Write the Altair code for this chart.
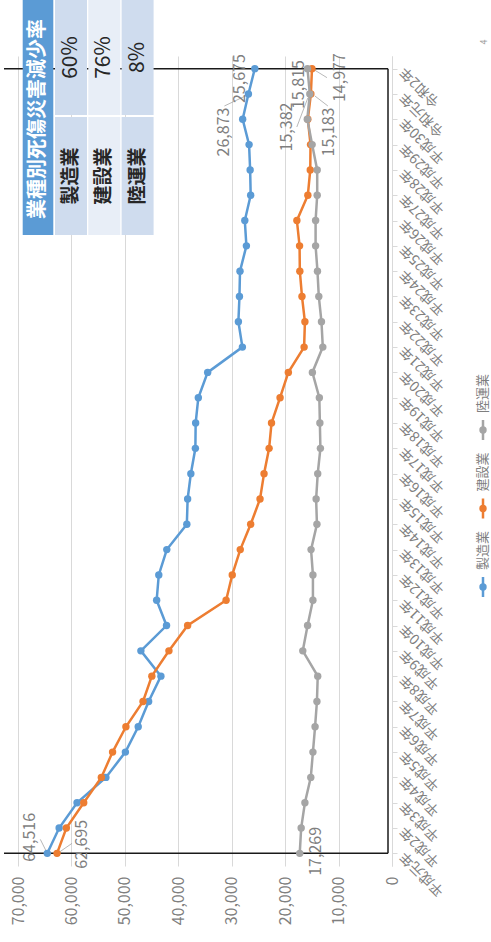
import altair as alt
import pandas as pd

# Categories (fiscal years) and series values
years = [
    "平成元年", "平成2年", "平成3年", "平成4年", "平成5年", "平成6年", "平成7年", "平成8年",
    "平成9年", "平成10年", "平成11年", "平成12年", "平成13年", "平成14年", "平成15年", "平成16年",
    "平成17年", "平成18年", "平成19年", "平成20年", "平成21年", "平成22年", "平成23年", "平成24年",
    "平成25年", "平成26年", "平成27年", "平成28年", "平成29年", "平成30年", "令和元年", "令和2年",
]
seizo = [64516, 62300, 58950, 53550, 49900, 47500, 45550, 43250, 47000, 42200,
         44050, 43650, 42150, 38400, 38250, 37650, 36800, 36750, 36250, 34500,
         28000, 28750, 28550, 28450, 27250, 27550, 26450, 26550, 26750, 27950,
         26873, 25675]
kensetsu = [62695, 60950, 57700, 54400, 52300, 49800, 46600, 44950, 41750, 38250,
            31050, 29900, 28400, 26450, 24700, 23950, 23000, 22550, 20950, 19400,
            16450, 16300, 16850, 17250, 17300, 17800, 15750, 15300, 15250, 15750,
            15183, 14977]
rikuun = [17269, 17000, 16300, 15200, 14800, 14400, 14050, 13900, 16700, 15800,
          14800, 14800, 15150, 14050, 14200, 13900, 13400, 13500, 13600, 14900,
          12950, 13200, 13700, 13950, 14300, 14300, 14000, 14000, 14950, 15850,
          15382, 15815]
series_names = ["製造業", "建設業", "陸運業"]
series_colors = ["#5B9BD5", "#ED7D31", "#A5A5A5"]
reduction_rates = ["60%", "76%", "8%"]
table_title = "業種別死傷災害減少率"
value_ticks = [0, 10000, 20000, 30000, 40000, 50000, 60000, 70000]

# Layout
W, H = 374, 810
PAD = {"left": 18, "top": 56, "right": 99, "bottom": 76}
FONT = "Noto Sans CJK JP"
GRAY_TEXT = "#7f7f7f"
GRID = "#d9d9d9"
VMAX = 70000

n = len(years)
df = pd.DataFrame({
    "idx": list(range(n)) * 3,
    "year": years * 3,
    "series": [s for s in series_names for _ in range(n)],
    "value": seizo + kensetsu + rikuun,
})

x_scale = alt.Scale(domain=[0, VMAX], reverse=True, nice=False)
y_scale = alt.Scale(domain=[-0.5, n - 0.5], nice=False, zero=False)

x_axis = alt.Axis(
    values=value_ticks, labelExpr="format(datum.value, ',')", orient="bottom", labelAngle=270,
    labelAlign="right", labelBaseline="middle", labelFontSize=16,
    labelColor=GRAY_TEXT, labelFont=FONT, labelPadding=10, labelFlush=False,
    labelOverlap=False, ticks=False, domain=False, grid=True,
    gridColor=GRID, gridWidth=1, title=None,
)
label_array = "[" + ",".join(f"'{y}'" for y in years) + "]"
y_axis = alt.Axis(
    values=list(range(n)), labelExpr=f"{label_array}[datum.value]",
    orient="right", labelAngle=225, labelAlign="right", labelBaseline="middle",
    labelFontSize=14, labelColor=GRAY_TEXT, labelFont=FONT, labelPadding=5,
    labelOverlap=False, ticks=True, tickSize=5, tickColor=GRID,
    domainColor=GRID, grid=False, title=None,
)


def xq(field):
    return alt.X(f"{field}:Q", scale=x_scale, axis=x_axis)


def yq(field):
    return alt.Y(f"{field}:Q", scale=y_scale, axis=y_axis)


color_enc = alt.Color("series:N", scale=alt.Scale(domain=series_names, range=series_colors), legend=None)

lines = alt.Chart(df).mark_line(strokeWidth=2.5).encode(
    x=xq("value"), y=yq("idx"), color=color_enc, order="idx:Q"
)
points = alt.Chart(df).mark_circle(size=55, opacity=1).encode(
    x=xq("value"), y=yq("idx"), color=color_enc
)

# Data labels: (series, index, screen offset x, screen offset y, leader from, leader to)
label_specs = [
    ("製造業", 0, -17, -16, (-7, -14), (-1, -2)),
    ("建設業", 0, 25, -9, (15, -10), (2, -1)),
    ("陸運業", 0, 16, -2, None, None),
    ("製造業", n - 1, -15, 10, None, None),
    ("製造業", n - 2, -24, 38, (-24, 12), (-3, 2)),
    ("陸運業", n - 2, -23, 33, (-13, 33), (-2, 4)),
    ("陸運業", n - 1, -9, 16, None, None),
    ("建設業", n - 1, 28, 9, (15, 9), (2, 1)),
    ("建設業", n - 2, 18, 38, (17, 12), (4, 2)),
]

px_v = VMAX / W
px_i = n / H
label_layers = []
leader_rows = []
for name, i, sx, sy, a, b in label_specs:
    sub = df[(df.series == name) & (df.idx == i)]
    label_layers.append(
        alt.Chart(sub).mark_text(
            angle=270, dx=-sy, dy=sx, align="center", baseline="middle",
            fontSize=16, color=GRAY_TEXT, font=FONT,
        ).encode(x=xq("value"), y=yq("idx"), text=alt.Text("value:Q", format=","))
    )
    if a is not None:
        v = float(sub["value"].iloc[0])
        leader_rows.append({
            "value": v - a[0] * px_v, "idx": i - a[1] * px_i,
            "value2": v - b[0] * px_v, "idx2": i - b[1] * px_i,
        })

leaders = alt.Chart(pd.DataFrame(leader_rows)).mark_rule(color="#a6a6a6", strokeWidth=0.8).encode(
    x=xq("value"), x2="value2:Q", y=yq("idx"), y2="idx2:Q"
)

# Black frame at first/last year
frame_h = alt.Chart(pd.DataFrame({"idx": [0, n - 1]})).mark_rule(color="#1a1a1a", strokeWidth=1.5).encode(
    y=yq("idx"), x=alt.value(-14), x2=alt.value(370)
)
frame_v = alt.Chart(pd.DataFrame({"idx": [0], "idx2": [n - 1]})).mark_rule(color="#1a1a1a", strokeWidth=1.5).encode(
    x=alt.value(370), y=yq("idx"), y2="idx2:Q"
)

# Reduction-rate table
tdf = pd.DataFrame({"name": series_names, "rate": reduction_rates, "k": [0, 1, 2]})
tbase = alt.Chart(tdf).transform_calculate(
    cx0="37 + datum.k * 33.3",
    cx1="37 + datum.k * 33.3 + 32",
    cxm="53 + datum.k * 33.3",
    fillc="datum.k % 2 == 0 ? '#cfdcee' : '#e8eef7'",
)
cells_top = tbase.mark_rect().encode(
    x=alt.X("cx0:Q", scale=None), x2="cx1:Q", y=alt.value(-56), y2=alt.value(59),
    fill=alt.Fill("fillc:N", scale=None),
)
cells_bot = tbase.mark_rect().encode(
    x=alt.X("cx0:Q", scale=None), x2="cx1:Q", y=alt.value(61), y2=alt.value(179),
    fill=alt.Fill("fillc:N", scale=None),
)
rate_text = tbase.mark_text(angle=270, align="center", baseline="middle", fontSize=21,
                            color="#262626", font=FONT).encode(
    x=alt.X("cxm:Q", scale=None), y=alt.value(1.5), text="rate:N"
)
name_text = tbase.mark_text(angle=270, align="center", baseline="middle", fontSize=19,
                            fontWeight="bold", color="#262626", font=FONT).encode(
    x=alt.X("cxm:Q", scale=None), y=alt.value(120), text="name:N"
)
hdf = pd.DataFrame({"t": [table_title]})
header_rect = alt.Chart(hdf).mark_rect(color="#5B9BD5").encode(
    x=alt.value(4.7), x2=alt.value(35.3), y=alt.value(-56), y2=alt.value(179)
)
header_text = alt.Chart(hdf).mark_text(angle=270, align="center", baseline="middle", fontSize=20,
                                       fontWeight="bold", color="white", font=FONT).encode(
    x=alt.value(20), y=alt.value(63), text="t:N"
)

# Legend
ldf = pd.DataFrame({"series": series_names, "k": [0, 1, 2]})
lbase = alt.Chart(ldf).transform_calculate(
    ly="531 - datum.k * 78.5",
    ly0="521 - datum.k * 78.5",
    ly1="541 - datum.k * 78.5",
    lt="514 - datum.k * 78.5",
)
leg_rule = lbase.mark_rule(strokeWidth=2.5).encode(
    x=alt.value(465), y=alt.Y("ly0:Q", scale=None), y2="ly1:Q", color=color_enc
)
leg_pt = lbase.mark_circle(size=55, opacity=1).encode(
    x=alt.value(465), y=alt.Y("ly:Q", scale=None), color=color_enc
)
leg_txt = lbase.mark_text(angle=270, align="left", baseline="middle", fontSize=13,
                          color=GRAY_TEXT, font=FONT).encode(
    x=alt.value(465), y=alt.Y("lt:Q", scale=None), text="series:N"
)

page_no = alt.Chart(pd.DataFrame({"t": ["4"]})).mark_text(angle=270, fontSize=9, color="#999999").encode(
    x=alt.value(466), y=alt.value(-14), text="t:N"
)

chart = alt.layer(
    frame_h, frame_v, leaders, lines, points, *label_layers,
    header_rect, cells_top, cells_bot, header_text, rate_text, name_text,
    leg_rule, leg_pt, leg_txt, page_no,
).properties(
    width=W, height=H, autosize=alt.AutoSizeParams(type="none"), padding=PAD,
).configure(font=FONT).configure_view(stroke=None)

chart.save("out.html", embed_options={"renderer": "svg", "actions": False})
